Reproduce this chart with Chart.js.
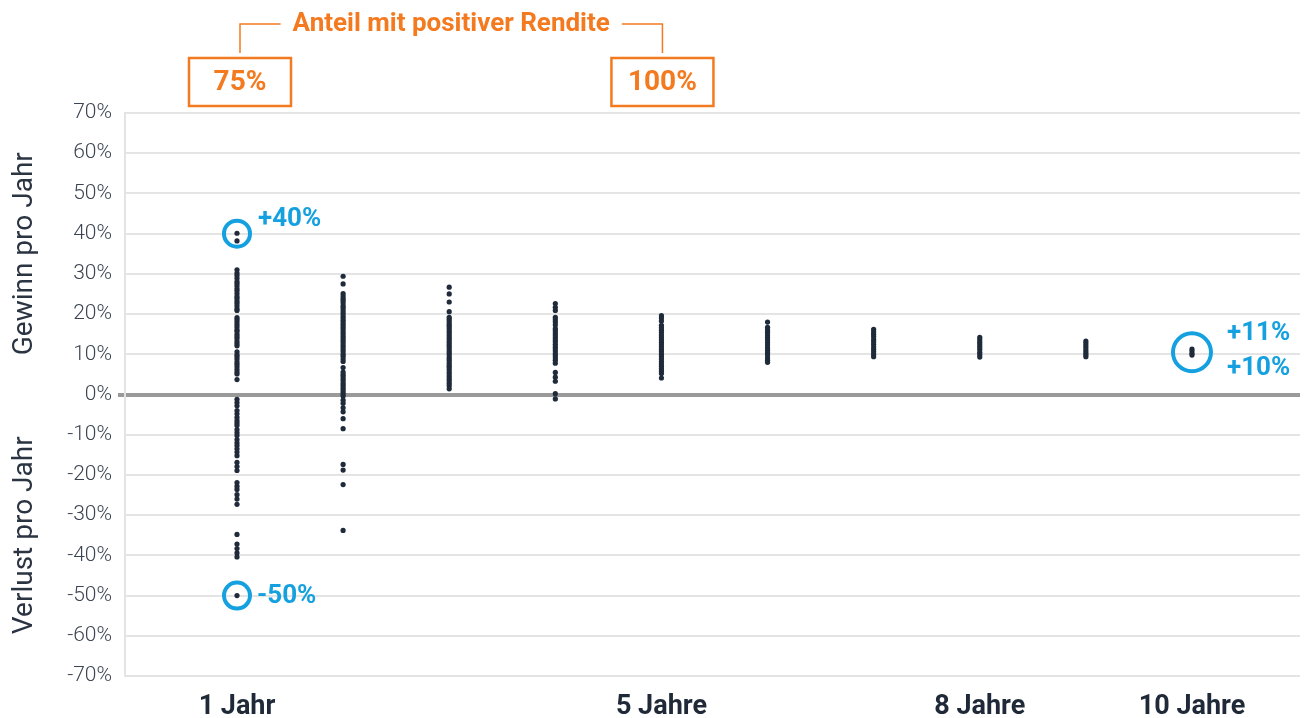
<!DOCTYPE html>
<html>
<head>
<meta charset="utf-8">
<script src="https://cdn.jsdelivr.net/npm/chart.js@4"></script>
<style>
  html, body { margin: 0; padding: 0; background: #ffffff; }
  #wrap { position: relative; width: 1307px; height: 718px; }
</style>
</head>
<body>
<div id="wrap"><canvas id="c"></canvas></div>
<script>
// ---- Data ----
const years = [1, 2, 3, 4, 5, 6, 7, 8, 9, 10];
const tickYears = [1, 5, 8, 10];
const tickLabels = { 1: '1 Jahr', 5: '5 Jahre', 8: '8 Jahre', 10: '10 Jahre' };
const yTicks = [-70, -60, -50, -40, -30, -20, -10, 0, 10, 20, 30, 40, 50, 60, 70];

const returns1 = [40.1, 38.2, 31.0, 30.2, 29.6, 28.9, 28.1, 27.6, 27.0, 26.3, 25.8, 25.1, 24.4, 23.9, 23.2, 22.6, 22.0, 21.3, 20.9, 19.1, 18.6, 18.0, 17.4, 16.8, 16.1, 15.7, 15.0, 14.4, 13.9, 13.2, 12.6, 12.1, 10.6, 9.9, 9.4, 8.8, 8.1, 7.5, 6.9, 6.2, 5.6, 5.1, 3.7,
  -1.2, -2.0, -2.8, -4.0, -4.8, -5.7, -6.5, -7.1, -7.7, -8.7, -9.5, -10.2, -11.2, -12.0, -12.7, -13.5, -14.3, -15.2, -16.9, -17.9, -18.9, -21.9, -22.8, -23.6, -24.9, -26.0, -27.3, -34.8, -37.2, -38.3, -39.4, -40.4, -50.0];
const returns2 = [29.4, 27.5, 25.1, 24.5, 23.9, 23.4, 22.8, 22.1, 21.6, 21.0, 20.4, 19.8, 19.2, 18.6, 18.1, 17.5, 16.9, 16.4, 15.8, 15.2, 14.6, 14.1, 13.5, 12.9, 12.3, 11.8, 11.2, 10.6, 10.0, 9.5, 8.8, 8.2, 6.7, 5.6, 5.0, 4.5, 3.9, 3.4, 2.8, 2.3, 1.7, 1.2, 0.6, 0.1, -0.4, -1.4, -2.2, -3.3, -4.3, -6.0, -8.5, -17.4, -18.8, -22.4, -33.8];
const returns3 = [26.7, 25.0, 23.0, 20.6, 19.2, 18.7, 18.1, 17.5, 17.0, 16.4, 15.8, 15.3, 14.7, 14.1, 13.6, 13.0, 12.4, 11.9, 11.3, 10.7, 10.2, 9.6, 9.0, 8.5, 7.9, 7.3, 6.8, 6.2, 5.6, 5.1, 4.5, 3.9, 3.4, 2.8, 2.2, 1.4];
const returns4 = [22.6, 21.7, 20.9, 19.2, 18.6, 18.0, 17.3, 16.4, 15.9, 15.3, 14.8, 14.2, 13.6, 13.1, 12.5, 11.9, 11.4, 10.8, 10.2, 9.7, 9.1, 8.5, 7.8, 5.5, 4.3, 3.3, 0.2, -1.1];
const returns5 = [19.6, 19.0, 18.3, 17.2, 16.6, 16.0, 15.4, 14.8, 14.2, 13.6, 13.0, 12.4, 11.8, 11.2, 10.6, 10.0, 9.4, 8.8, 8.2, 7.6, 7.0, 6.4, 5.8, 5.2, 4.1];
const returns6 = [18.0, 16.7, 16.1, 15.5, 14.8, 14.2, 13.6, 12.9, 12.3, 11.6, 11.0, 10.4, 9.8, 9.1, 8.5, 8.0];
const returns7 = [16.2, 15.6, 15.0, 14.4, 13.7, 13.1, 12.5, 11.8, 11.2, 10.6, 10.0, 9.4];
const returns8 = [14.2, 13.6, 13.0, 12.4, 11.8, 11.2, 10.5, 9.9, 9.3];
const returns9 = [13.3, 12.8, 12.2, 11.6, 11.0, 10.4, 9.9, 9.4];
const returns10 = [11.3, 10.8, 10.2, 9.8];

// Highlights (blue circles)
const highlightYears = [1, 1, 10];
const highlightValues = [40, -50, 10.5];
const highlightLabels = [['+40%'], ['-50%'], ['+11%', '+10%']];

// Share with positive return (orange boxes)
const shareTitle = 'Anteil mit positiver Rendite';
const shareYears = [1, 5];
const shareLabels = ['75%', '100%'];

const yTitleTop = 'Gewinn pro Jahr';
const yTitleBottom = 'Verlust pro Jahr';

// ---- Build ----
const allReturns = [returns1, returns2, returns3, returns4, returns5, returns6, returns7, returns8, returns9, returns10];
const points = [];
years.forEach((yr, i) => allReturns[i].forEach(v => points.push({ x: yr, y: v })));

const BLUE = '#15a0df';
const ORANGE = '#f47a20';
const DOT = '#1f2a3a';

const annot = {
  id: 'annot',
  afterDraw(chart) {
    const ctx = chart.ctx;
    const xs = chart.scales.x, ys = chart.scales.y;
    ctx.save();

    // y-axis titles
    ctx.fillStyle = '#2b3442';
    ctx.font = '400 28px Roboto';
    ctx.textAlign = 'center';
    ctx.textBaseline = 'middle';
    const drawV = (txt, yc) => {
      ctx.save();
      ctx.translate(25, yc);
      ctx.rotate(-Math.PI / 2);
      ctx.fillText(txt, 0, 0);
      ctx.restore();
    };
    drawV(yTitleTop, (ys.getPixelForValue(yTicks[yTicks.length - 1]) + ys.getPixelForValue(0)) / 2);
    drawV(yTitleBottom, (ys.getPixelForValue(yTicks[0]) + ys.getPixelForValue(0)) / 2);

    // blue highlight circles
    highlightYears.forEach((yr, i) => {
      const px = xs.getPixelForValue(yr), py = ys.getPixelForValue(highlightValues[i]);
      const big = highlightLabels[i].length > 1;
      const r = big ? 19 : 13;
      ctx.beginPath();
      ctx.arc(px, py, r, 0, Math.PI * 2);
      ctx.strokeStyle = BLUE;
      ctx.lineWidth = 4;
      ctx.stroke();
      ctx.fillStyle = BLUE;
      ctx.font = 'bold 26px Roboto';
      ctx.textAlign = 'left';
      ctx.textBaseline = 'middle';
      if (big) {
        ctx.fillText(highlightLabels[i][0], px + r + 16, py - 19);
        ctx.fillText(highlightLabels[i][1], px + r + 16, py + 16);
      } else if (highlightValues[i] > 0) {
        ctx.fillText(highlightLabels[i][0], px + r + 8, py - 14);
      } else {
        ctx.fillText(highlightLabels[i][0], px + r + 7, py + 1);
      }
    });

    // orange share annotation
    const x1 = xs.getPixelForValue(shareYears[0]) + 3;
    const x2 = xs.getPixelForValue(shareYears[1]) + 1;
    const yLine = 24;
    ctx.font = 'bold 26px Roboto';
    ctx.textAlign = 'center';
    ctx.textBaseline = 'middle';
    const mid = (x1 + x2) / 2;
    const tw = ctx.measureText(shareTitle).width;
    ctx.fillStyle = ORANGE;
    ctx.fillText(shareTitle, mid, yLine);
    ctx.strokeStyle = ORANGE;
    ctx.lineWidth = 1.5;
    ctx.beginPath();
    ctx.moveTo(x1, 53); ctx.lineTo(x1, yLine); ctx.lineTo(mid - tw / 2 - 12, yLine);
    ctx.moveTo(x2, 53); ctx.lineTo(x2, yLine); ctx.lineTo(mid + tw / 2 + 12, yLine);
    ctx.stroke();
    ctx.lineWidth = 2.5;
    ctx.font = 'bold 28px Roboto';
    [x1, x2].forEach((bx, i) => {
      ctx.strokeRect(bx - 51, 58, 102, 48);
      ctx.fillText(shareLabels[i], bx, 83);
    });
    ctx.restore();
  }
};

new Chart(document.getElementById('c'), {
  type: 'scatter',
  data: {
    datasets: [{
      data: points,
      backgroundColor: DOT,
      borderWidth: 0,
      pointRadius: 2.6,
      pointHoverRadius: 2.6
    }]
  },
  options: {
    responsive: true,
    maintainAspectRatio: false,
    animation: false,
    events: [],
    layout: { padding: { left: 0, right: 7, top: 113, bottom: 0 } },
    plugins: { legend: { display: false }, tooltip: { enabled: false } },
    scales: {
      x: {
        type: 'linear',
        min: -0.0555,
        max: 11.018,
        afterBuildTicks: s => { s.ticks = tickYears.map(v => ({ value: v })); },
        afterFit: s => { s.height = 42; },
        grid: { display: false, drawTicks: false },
        border: { display: false },
        ticks: {
          autoSkip: false,
          maxRotation: 0,
          padding: 15,
          color: '#1f2937',
          font: { family: 'Roboto', size: 27, weight: 'bold' },
          callback: v => tickLabels[v] || ''
        }
      },
      y: {
        min: -70,
        max: 70,
        afterBuildTicks: s => { s.ticks = yTicks.map(v => ({ value: v })); },
        afterFit: s => { s.width = 125; },
        grid: {
          color: c => c.tick && c.tick.value === 0 ? '#9a9a9a' : '#e4e4e4',
          lineWidth: c => c.tick && c.tick.value === 0 ? 4 : 2,
          tickColor: c => c.tick && c.tick.value === 0 ? '#9a9a9a' : 'rgba(0,0,0,0)',
          tickWidth: c => c.tick && c.tick.value === 0 ? 4 : 2,
          tickLength: 7,
          z: 0
        },
        border: { display: true, color: '#e4e4e4', width: 2 },
        ticks: {
          padding: 6,
          color: '#3b4452',
          font: { family: 'Roboto', size: 21, weight: '300' },
          callback: v => v + '%'
        }
      }
    }
  },
  plugins: [annot]
});
</script>
</body>
</html>
